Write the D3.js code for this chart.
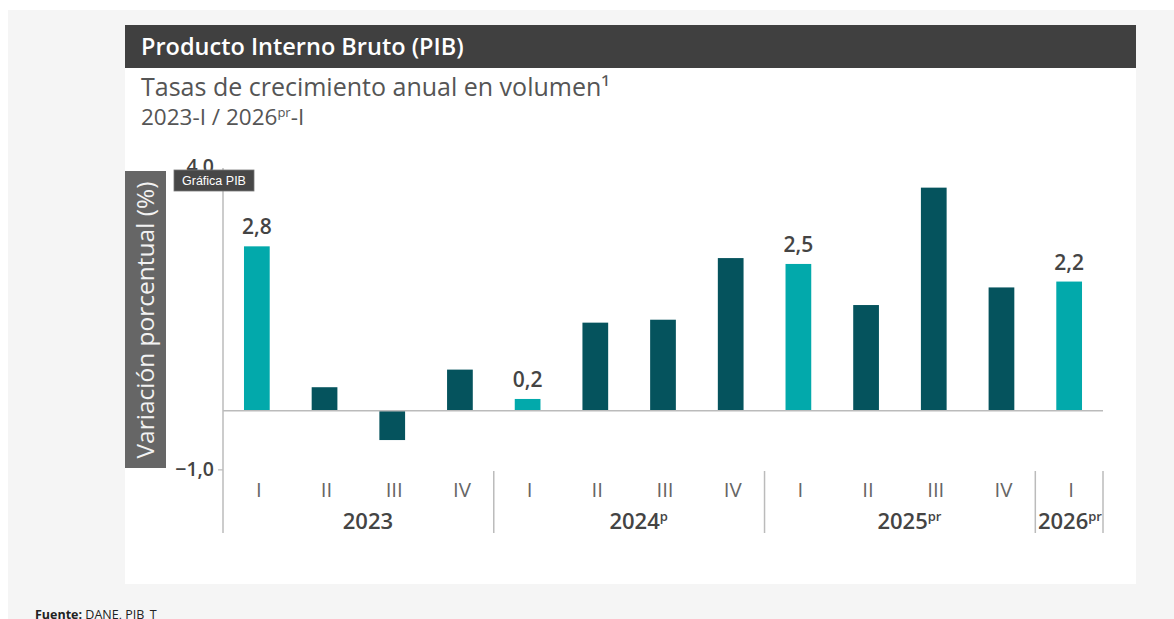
<!DOCTYPE html>
<html>
<head>
<meta charset="utf-8">
<script src="https://cdn.jsdelivr.net/npm/d3@7"></script>
<style>
  html, body { margin: 0; padding: 0; background: #fff; }
  svg { display: block; font-family: "Open Sans", sans-serif; }
</style>
</head>
<body>
<div id="chart"></div>
<script>
// quarterly GDP growth, DANE
const quarters = ["I", "II", "III", "IV", "I", "II", "III", "IV", "I", "II", "III", "IV", "I"];
const quarterYears = ["2023", "2023", "2023", "2023", "2024", "2024", "2024", "2024", "2025", "2025", "2025", "2025", "2026"];
const growth = [2.8, 0.4, -0.5, 0.7, 0.2, 1.5, 1.55, 2.6, 2.5, 1.8, 3.8, 2.1, 2.2];
const yearLabels = ["2023", "2024", "2025", "2026"];
const yearSup = ["", "p", "pr", "pr"];
const yTicks = [-1, 4];

const W = 1174, H = 619;
const svg = d3.select("#chart").append("svg")
    .attr("width", W)
    .attr("height", H);

// backgrounds
svg.append("rect").attr("x", 8).attr("y", 10).attr("width", W - 8).attr("height", H - 10).attr("fill", "#f5f5f5");
svg.append("rect").attr("x", 125).attr("y", 25).attr("width", 1011).attr("height", 559).attr("fill", "#fff");
svg.append("rect").attr("x", 125).attr("y", 25).attr("width", 1011).attr("height", 43).attr("fill", "#404040");

svg.append("text")
    .attr("x", 141).attr("y", 55)
    .attr("fill", "#fff")
    .attr("font-size", 23.5)
    .attr("font-weight", 600)
    .text("Producto Interno Bruto (PIB)");

const sub = svg.append("g").attr("fill", "#555");
sub.append("text").attr("x", 141).attr("y", 96)
    .attr("font-size", 25)
    .text("Tasas de crecimiento anual en volumen¹");
const sub2 = sub.append("text").attr("x", 141).attr("y", 125).attr("font-size", 22.5);
sub2.append("tspan").text("2023-I / 2026");
sub2.append("tspan").attr("font-size", 13).attr("dy", -8).text("pr");
sub2.append("tspan").attr("dy", 8).text("-I");

// scales
const keys = quarters.map((q, i) => i);
const x = d3.scaleBand()
    .domain(keys)
    .range([223, 1103])
    .paddingInner(0.62)
    .paddingOuter(0.31);

const y = d3.scaleLinear()
    .domain([-1, 4])
    .range([469.4, 175.9]);

const light = "#02a9ab";
const dark = "#05535d";

// y axis title box
svg.append("rect").attr("x", 125).attr("y", 171).attr("width", 41).attr("height", 297).attr("fill", "#666");
svg.append("text")
    .attr("transform", "translate(154,320) rotate(-90)")
    .attr("text-anchor", "middle")
    .attr("fill", "#f2f2f2")
    .attr("font-size", 24.5)
    .text("Variación porcentual (%)");

// y axis
const yAxis = svg.append("g")
    .attr("transform", "translate(223,0)")
    .call(d3.axisLeft(y).tickValues(yTicks).tickSize(5).tickPadding(4)
        .tickFormat(d => d3.format(".1f")(d).replace(".", ",")));
yAxis.select(".domain").remove();
yAxis.selectAll(".tick line").attr("stroke", "#aaa");
yAxis.selectAll(".tick text")
    .attr("fill", "#444")
    .attr("font-size", 19.5)
    .attr("font-weight", 600)
    .attr("font-family", "Open Sans")
    .attr("dy", d => d === 4 ? "-0.15em" : "0.32em");

svg.append("line")
    .attr("x1", 223).attr("x2", 223)
    .attr("y1", y(4) - 8).attr("y2", 533)
    .attr("stroke", "#bbb").attr("stroke-width", 1.5);

// bars
svg.selectAll(".bar")
    .data(growth)
    .enter()
    .append("rect")
    .attr("class", "bar")
    .attr("x", (d, i) => x(i))
    .attr("width", x.bandwidth())
    .attr("y", d => y(Math.max(0, d)))
    .attr("height", d => Math.abs(y(d) - y(0)))
    .attr("fill", (d, i) => quarters[i] === "I" ? light : dark);

// zero line
svg.append("line")
    .attr("x1", 223).attr("x2", 1103)
    .attr("y1", y(0)).attr("y2", y(0))
    .attr("stroke", "#bbb").attr("stroke-width", 1.5);

// value labels on first quarters
svg.selectAll(".val")
    .data(growth.map((v, i) => ({ v, i })).filter(d => quarters[d.i] === "I"))
    .enter()
    .append("text")
    .attr("class", "val")
    .attr("x", d => x(d.i) + x.bandwidth() / 2)
    .attr("y", d => y(d.v) - 12)
    .attr("text-anchor", "middle")
    .attr("fill", "#444")
    .attr("font-size", 21)
    .attr("font-weight", 600)
    .text(d => d3.format(".1f")(d.v).replace(".", ","));

// quarter labels
svg.selectAll(".q")
    .data(quarters)
    .enter()
    .append("text")
    .attr("class", "q")
    .attr("x", (d, i) => x(i) + x.bandwidth() / 2 + 2)
    .attr("y", 497)
    .attr("text-anchor", "middle")
    .attr("fill", "#666")
    .attr("font-size", 20.5)
    .text(d => d);

// year groups and separators
const step = x.step();
yearLabels.forEach((yr, gi) => {
    const idx = quarterYears.map((q, i) => q === yr ? i : -1).filter(i => i >= 0);
    const x0 = x(idx[0]) - x.paddingOuter() * step;
    const x1 = x(idx[idx.length - 1]) + x.bandwidth() + x.paddingOuter() * step;
    const t = svg.append("text")
        .attr("y", 529)
        .attr("text-anchor", "middle")
        .attr("fill", "#444")
        .attr("font-size", 22)
        .attr("font-weight", 600);
    t.append("tspan").text(yr);
    if (yearSup[gi]) t.append("tspan").attr("font-size", 13).attr("dy", -8).text(yearSup[gi]);
    const w = t.node().getComputedTextLength();
    let cx = (x0 + x1) / 2 + 9.5;
    cx = Math.min(cx, x1 - w / 2 - 1);
    t.attr("x", cx);

    svg.append("line")
        .attr("x1", x1).attr("x2", x1)
        .attr("y1", 471).attr("y2", 533)
        .attr("stroke", "#bbb").attr("stroke-width", 1.5);
});

// tooltip-ish label
svg.append("rect")
    .attr("x", 174).attr("y", 170).attr("width", 80).attr("height", 21)
    .attr("fill", "#474747").attr("stroke", "#777").attr("stroke-width", 0.8);
svg.append("text")
    .attr("x", 214).attr("y", 185)
    .attr("text-anchor", "middle")
    .attr("fill", "#fff")
    .attr("font-size", 12.5)
    .attr("font-family", "Liberation Sans, Arial, sans-serif")
    .text("Gráfica PIB");

// source
const src = svg.append("text").attr("x", 35).attr("y", 619).attr("font-size", 12.5).attr("fill", "#222");
src.append("tspan").attr("font-weight", 700).text("Fuente: ");
src.append("tspan").text("DANE, PIB_T");
</script>
</body>
</html>
